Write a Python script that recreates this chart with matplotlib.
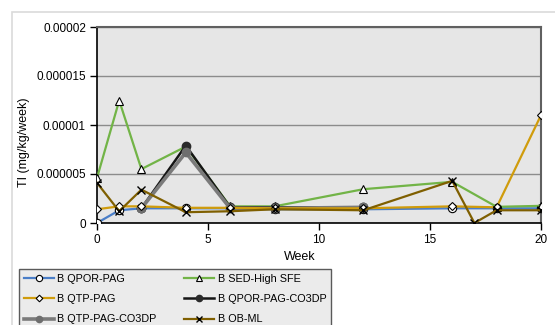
import numpy as np
import matplotlib
matplotlib.use("Agg")
import matplotlib.pyplot as plt
from matplotlib.patches import Rectangle

plt.rcParams['font.family'] = ['Liberation Sans', 'DejaVu Sans']

# Données (TI en mg/kg/week)
weeks = [0, 1, 2, 4, 6, 8, 12, 16, 18, 20]
qpor_pag = [0.0, 1.3e-6, 1.5e-6, 1.5e-6, 1.5e-6, 1.4e-6, 1.4e-6, 1.5e-6, 1.5e-6, 1.5e-6]
sed_high = [4.6e-6, 12.5e-6, 5.5e-6, 7.8e-6, 1.7e-6, 1.7e-6, 3.45e-6, 4.2e-6, 1.65e-6, 1.75e-6]
qtp_pag = [1.4e-6, 1.7e-6, 1.7e-6, 1.55e-6, 1.55e-6, 1.5e-6, 1.5e-6, 1.7e-6, 1.6e-6, 11.0e-6]

weeks_co3 = [2, 4, 6, 8, 12]
qpor_co3 = [1.5e-6, 7.9e-6, 1.6e-6, 1.6e-6, 1.6e-6]
qtp_co3 = [1.5e-6, 7.2e-6, 1.5e-6, 1.5e-6, 1.6e-6]

weeks_ob = [0, 1, 2, 4, 6, 8, 12, 16, 17, 18, 20]
ob_ml = [4.1e-6, 1.2e-6, 3.4e-6, 1.1e-6, 1.2e-6, 1.4e-6, 1.3e-6, 4.3e-6, 0.0, 1.3e-6, 1.3e-6]

W, H = 555, 325
fig = plt.figure(figsize=(W / 100, H / 100), dpi=100)
fig.patch.set_facecolor('white')

# Cadre gris clair du graphique
fig.patches.append(Rectangle((12 / W, -0.1), 1.0, 1 - 12 / H + 0.1, transform=fig.transFigure,
                             fill=False, edgecolor='#DADADA', linewidth=1.2))

ax = fig.add_axes([97 / W, 1 - 223 / H, 444 / W, 196 / H])
ax.set_facecolor('#E6E6E6')

ax.plot(weeks, qpor_pag, color='#4A7EC8', lw=1.6, marker='o', ms=6, mfc='white', mec='black',
        mew=0.8, label='B QPOR-PAG', zorder=3)
ax.plot(weeks, sed_high, color='#72B447', lw=1.6, marker='^', ms=6, mfc='white', mec='black',
        mew=0.8, label='B SED-High SFE', zorder=3)
ax.plot(weeks, qtp_pag, color='#D09C0C', lw=1.6, marker='D', ms=4.5, mfc='white', mec='black',
        mew=0.8, label='B QTP-PAG', zorder=4)
ax.plot(weeks_co3, qpor_co3, color='#151515', lw=1.8, marker='o', ms=6, mfc='#2a2a2a', mec='#2a2a2a',
        label='B QPOR-PAG-CO3DP', zorder=3)
ax.plot(weeks_co3, qtp_co3, color='#7A7A7A', lw=2.6, marker='o', ms=6, mfc='#6E6E6E', mec='#6E6E6E',
        label='B QTP-PAG-CO3DP', zorder=3)
ax.plot(weeks_ob, ob_ml, color='#7F5F00', lw=1.6, marker='x', ms=6, mec='black', mew=1.0,
        label='B OB-ML', zorder=5)

ax.set_xlim(0, 20)
ax.set_ylim(0, 0.00002)
ax.set_xticks([0, 5, 10, 15, 20])
ax.set_yticks([0, 0.000005, 0.00001, 0.000015, 0.00002])
ax.set_yticklabels(['0', '0.000005', '0.00001', '0.000015', '0.00002'])
ax.grid(axis='y', color='#8C8C8C', lw=1)
ax.set_axisbelow(True)
ax.tick_params(labelsize=8.5, length=5, width=1, direction='out', pad=3, colors='black')

for s in ['left', 'bottom']:
    ax.spines[s].set_color('black')
    ax.spines[s].set_linewidth(1.2)
for s in ['top', 'right']:
    ax.spines[s].set_color('#606060')
    ax.spines[s].set_linewidth(1.5)

ax.set_xlabel('Week', fontsize=9)
ax.xaxis.set_label_coords((300 - 97) / 444, (223 - 251) / 196)
ax.set_ylabel('TI (mg/kg/week)', fontsize=9)
ax.yaxis.set_label_coords((30 - 97) / 444, 0.41)

# ordre de la légende : lignes comme dans Excel
handles, labels = ax.get_legend_handles_labels()
order = [0, 2, 4, 1, 3, 5]
leg = fig.legend([handles[i] for i in order], [labels[i] for i in order], loc='upper left',
                 bbox_to_anchor=(19 / W, 1 - 269 / H), ncol=2, fontsize=7.8, frameon=True,
                 fancybox=False, handlelength=2.8, handletextpad=0.3, columnspacing=2.5,
                 labelspacing=0.95, borderpad=0.45, borderaxespad=0, markerscale=0.75)
leg.get_frame().set_edgecolor('#333333')
leg.get_frame().set_facecolor('#E6E6E6')
leg.get_frame().set_linewidth(1)

fig.savefig('out.png', dpi=100)
